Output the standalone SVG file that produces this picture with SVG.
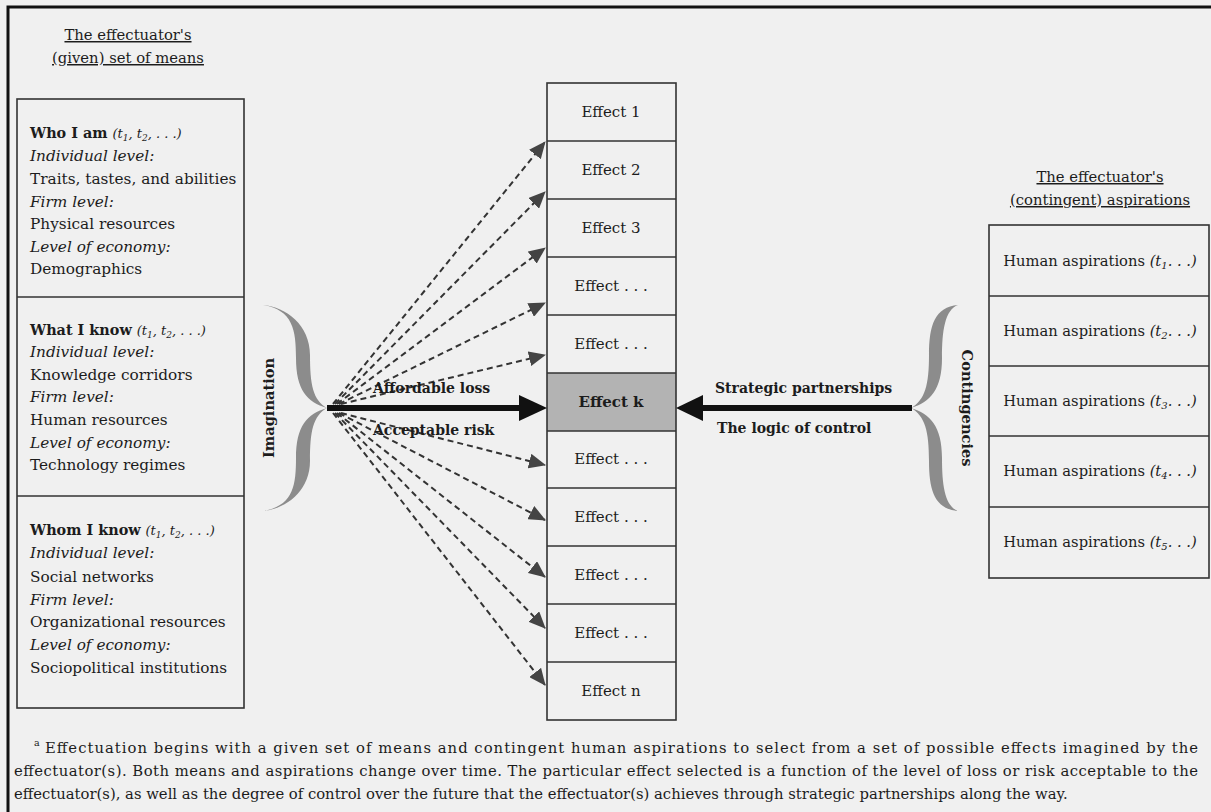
<svg xmlns="http://www.w3.org/2000/svg" width="1211" height="812" viewBox="0 0 1211 812">
  <style>
    text { font-family: "DejaVu Serif", "Liberation Serif", serif; fill: #1c1c1c; }
    .t { font-size: 15.3px; }
    .ha { font-size: 14.7px; }
    .b { font-weight: bold; }
    .bh { font-weight: bold; font-size: 14.4px; }
    .i { font-style: italic; }
    .par { font-style: italic; font-size: 13px; }
    .head { font-size: 14.8px; text-decoration: underline; }
    .eff { font-size: 15px; }
    .lbl { font-size: 14px; font-weight: bold; }
    .vlbl { font-size: 14.6px; font-weight: bold; }
    .foot { font-size: 14.8px; }
    .box { fill: none; stroke: #333; stroke-width: 1.6; }
    .dash { stroke: #333; stroke-width: 2; stroke-dasharray: 6 4; fill: none; }
    .brace { fill: #8c8c8c; }
  </style>
  <defs>
    <marker id="tri" viewBox="0 0 17 15" refX="16" refY="7.5" markerWidth="17" markerHeight="15" markerUnits="userSpaceOnUse" orient="auto">
      <path d="M0,0 L17,7.5 L0,15 Z" fill="#444"/>
    </marker>
  </defs>

  <!-- paper and frame -->
  <rect x="0" y="0" width="1211" height="812" fill="#f0f0f0"/>
  <path d="M8,812 V7 H1211" fill="none" stroke="#111" stroke-width="3"/>

  <!-- means -->
  <g id="means">
    <text class="head" x="128" y="40" text-anchor="middle">The effectuator's</text>
    <text class="head" x="128" y="63" text-anchor="middle">(given) set of means</text>
    <rect class="box" x="17" y="99" width="227" height="609"/>
    <line class="box" x1="17" y1="297" x2="244" y2="297"/>
    <line class="box" x1="17" y1="496" x2="244" y2="496"/>
    <g id="who-i-am">
      <text class="t" x="30" y="138"><tspan class="bh">Who I am</tspan> <tspan class="par">(t<tspan font-size="9" dy="3">1</tspan><tspan dy="-3">, t</tspan><tspan font-size="9" dy="3">2</tspan><tspan dy="-3">, . . .)</tspan></tspan></text>
      <text class="t i" x="30" y="161">Individual level:</text>
      <text class="t" x="30" y="184">Traits, tastes, and abilities</text>
      <text class="t i" x="30" y="207">Firm level:</text>
      <text class="t" x="30" y="229">Physical resources</text>
      <text class="t i" x="30" y="252">Level of economy:</text>
      <text class="t" x="30" y="274">Demographics</text>
    </g>
    <g id="what-i-know">
      <text class="t" x="30" y="335"><tspan class="bh">What I know</tspan> <tspan class="par">(t<tspan font-size="9" dy="3">1</tspan><tspan dy="-3">, t</tspan><tspan font-size="9" dy="3">2</tspan><tspan dy="-3">, . . .)</tspan></tspan></text>
      <text class="t i" x="30" y="357">Individual level:</text>
      <text class="t" x="30" y="380">Knowledge corridors</text>
      <text class="t i" x="30" y="402">Firm level:</text>
      <text class="t" x="30" y="425">Human resources</text>
      <text class="t i" x="30" y="448">Level of economy:</text>
      <text class="t" x="30" y="470">Technology regimes</text>
    </g>
    <g id="whom-i-know">
      <text class="t" x="30" y="535"><tspan class="bh">Whom I know</tspan> <tspan class="par">(t<tspan font-size="9" dy="3">1</tspan><tspan dy="-3">, t</tspan><tspan font-size="9" dy="3">2</tspan><tspan dy="-3">, . . .)</tspan></tspan></text>
      <text class="t i" x="30" y="558">Individual level:</text>
      <text class="t" x="30" y="582">Social networks</text>
      <text class="t i" x="30" y="605">Firm level:</text>
      <text class="t" x="30" y="627">Organizational resources</text>
      <text class="t i" x="30" y="650">Level of economy:</text>
      <text class="t" x="30" y="673">Sociopolitical institutions</text>
    </g>
  </g>

  <!-- imagination brace -->
  <g id="imagination">
    <path class="brace" d="M263,305 C286,307 310,325 310,355 C310,385 313,400 327,408 C307,402 296,390 296,358 C296,330 293,310 263,305 Z"/>
    <path class="brace" d="M263,511 C286,509 310,491 310,461 C310,431 313,416 327,408 C307,414 296,426 296,458 C296,486 293,506 263,511 Z"/>
    <text class="vlbl" transform="translate(274,408) rotate(-90)" text-anchor="middle">Imagination</text>
  </g>

  <!-- effects column -->
  <g id="effects">
    <rect x="547" y="373" width="129" height="58" fill="#b3b3b3"/>
    <rect class="box" x="547" y="83" width="129" height="637"/>
    <g class="box">
      <line x1="547" y1="141" x2="676" y2="141"/>
      <line x1="547" y1="199" x2="676" y2="199"/>
      <line x1="547" y1="257" x2="676" y2="257"/>
      <line x1="547" y1="315" x2="676" y2="315"/>
      <line x1="547" y1="373" x2="676" y2="373"/>
      <line x1="547" y1="431" x2="676" y2="431"/>
      <line x1="547" y1="488" x2="676" y2="488"/>
      <line x1="547" y1="546" x2="676" y2="546"/>
      <line x1="547" y1="604" x2="676" y2="604"/>
      <line x1="547" y1="662" x2="676" y2="662"/>
    </g>
    <g text-anchor="middle">
      <text class="eff" x="611" y="117">Effect 1</text>
      <text class="eff" x="611" y="175">Effect 2</text>
      <text class="eff" x="611" y="233">Effect 3</text>
      <text class="eff" x="611" y="291">Effect . . .</text>
      <text class="eff" x="611" y="349">Effect . . .</text>
      <text class="eff b" x="611" y="407">Effect k</text>
      <text class="eff" x="611" y="464">Effect . . .</text>
      <text class="eff" x="611" y="522">Effect . . .</text>
      <text class="eff" x="611" y="580">Effect . . .</text>
      <text class="eff" x="611" y="638">Effect . . .</text>
      <text class="eff" x="611" y="696">Effect n</text>
    </g>
  </g>

  <!-- contingencies brace -->
  <g id="contingencies">
    <path class="brace" d="M958,305 C935,307 929,325 929,355 C929,385 925,400 911,408 C930,402 942,390 942,358 C942,330 945,310 958,305 Z"/>
    <path class="brace" d="M958,511 C935,509 929,491 929,461 C929,431 925,416 911,408 C930,414 942,426 942,458 C942,486 945,506 958,511 Z"/>
    <text class="vlbl" transform="translate(962,408) rotate(90)" text-anchor="middle">Contingencies</text>
  </g>

  <!-- aspirations -->
  <g id="aspirations">
    <text class="head" x="1100" y="182" text-anchor="middle">The effectuator's</text>
    <text class="head" x="1100" y="205" text-anchor="middle">(contingent) aspirations</text>
    <rect class="box" x="989" y="225" width="220" height="353"/>
    <line class="box" x1="989" y1="296" x2="1209" y2="296"/>
    <line class="box" x1="989" y1="366" x2="1209" y2="366"/>
    <line class="box" x1="989" y1="436" x2="1209" y2="436"/>
    <line class="box" x1="989" y1="507" x2="1209" y2="507"/>
    <g text-anchor="middle">
      <text class="ha" x="1100" y="266">Human aspirations <tspan class="i">(t<tspan font-size="10" dy="3">1</tspan><tspan dy="-3">. . .)</tspan></tspan></text>
      <text class="ha" x="1100" y="336">Human aspirations <tspan class="i">(t<tspan font-size="10" dy="3">2</tspan><tspan dy="-3">. . .)</tspan></tspan></text>
      <text class="ha" x="1100" y="406">Human aspirations <tspan class="i">(t<tspan font-size="10" dy="3">3</tspan><tspan dy="-3">. . .)</tspan></tspan></text>
      <text class="ha" x="1100" y="476">Human aspirations <tspan class="i">(t<tspan font-size="10" dy="3">4</tspan><tspan dy="-3">. . .)</tspan></tspan></text>
      <text class="ha" x="1100" y="547">Human aspirations <tspan class="i">(t<tspan font-size="10" dy="3">5</tspan><tspan dy="-3">. . .)</tspan></tspan></text>
    </g>
  </g>

  <!-- connectors -->
  <g id="connectors">
    <g class="dash" marker-end="url(#tri)">
      <line x1="333" y1="404" x2="545" y2="142"/>
      <line x1="335" y1="404" x2="545" y2="192"/>
      <line x1="337" y1="404" x2="545" y2="248"/>
      <line x1="339" y1="404" x2="545" y2="303"/>
      <line x1="341" y1="404" x2="545" y2="355"/>
      <line x1="341" y1="413" x2="545" y2="465"/>
      <line x1="339" y1="413" x2="545" y2="520"/>
      <line x1="337" y1="413" x2="545" y2="577"/>
      <line x1="335" y1="413" x2="545" y2="628"/>
      <line x1="333" y1="413" x2="545" y2="685"/>
    </g>
    <line x1="327" y1="408" x2="522" y2="408" stroke="#111" stroke-width="6"/>
    <path d="M519,395 L547,408 L519,421 Z" fill="#111"/>
    <line x1="912" y1="408" x2="700" y2="408" stroke="#111" stroke-width="6"/>
    <path d="M703,395 L676,408 L703,421 Z" fill="#111"/>
    <text class="lbl" x="373" y="393">Affordable loss</text>
    <text class="lbl" x="373" y="435">Acceptable risk</text>
    <text class="lbl" x="715" y="393">Strategic partnerships</text>
    <text class="lbl" x="717" y="433">The logic of control</text>
  </g>

  <!-- footnote -->
  <g id="footnote">
    <text x="34" y="746" font-size="9.5">a</text>
    <text class="foot" x="45" y="753" textLength="1153" lengthAdjust="spacing">Effectuation begins with a given set of means and contingent human aspirations to select from a set of possible effects imagined by the</text>
    <text class="foot" x="14" y="776" textLength="1184" lengthAdjust="spacing">effectuator(s). Both means and aspirations change over time. The particular effect selected is a function of the level of loss or risk acceptable to the</text>
    <text class="foot" x="14" y="799">effectuator(s), as well as the degree of control over the future that the effectuator(s) achieves through strategic partnerships along the way.</text>
  </g>
</svg>
